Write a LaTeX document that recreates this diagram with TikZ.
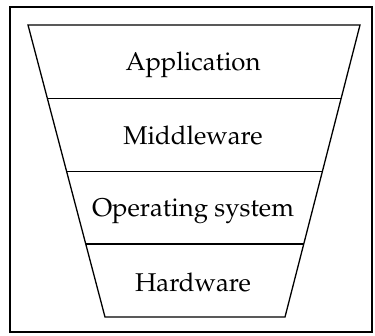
\documentclass[tikz,border=0pt]{standalone}
\usepackage[T1]{fontenc}
\usepackage{mathpazo}
\begin{document}
\begin{tikzpicture}[x=1pt,y=-1pt,inner sep=0pt,minimum size=0mm,font=\fontsize{25.7}{30}\selectfont]

\useasboundingbox (0,0) rectangle (375,335);

\draw[line width=2.6pt] (10,7) rectangle (372,332);

\draw[line width=1.3pt] (28,25) -- (360,25) -- (285,317) -- (105,317) -- cycle;
\draw[line width=1.3pt] (47.3,98.3) -- (341.2,98.3);
\draw[line width=1.3pt] (66.7,171.7) -- (322.3,171.7);
\draw[line width=1.3pt] (85.8,244) -- (303.8,244);

\node[anchor=base] (app) at (193,70) {Application};
\node[anchor=base] (mid) at (193,144.5) {Middleware};
\node[anchor=base] (os) at (193,216.7) {Operating system};
\node[anchor=base] (hw) at (193,291.7) {Hardware};

\end{tikzpicture}
\end{document}
